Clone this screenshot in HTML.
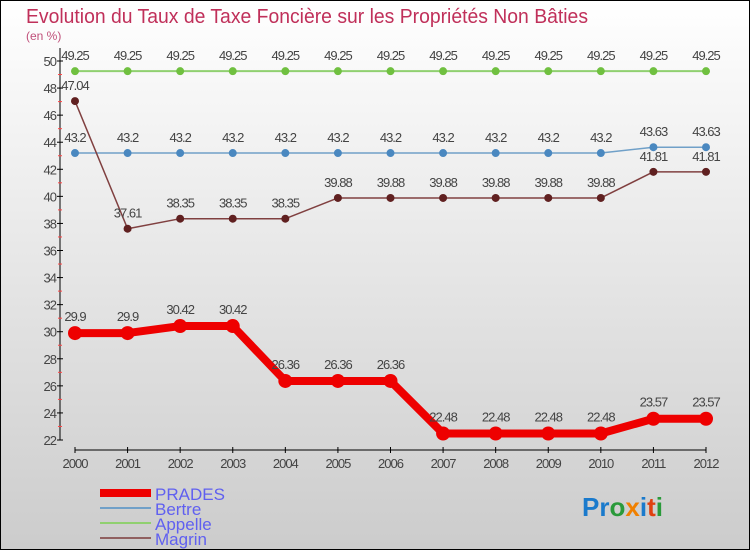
<!DOCTYPE html>
<html><head><meta charset="utf-8"><style>
body{margin:0}
svg{display:block;font-family:"Liberation Sans",sans-serif}
</style></head><body>
<svg id="c" width="750" height="550" viewBox="0 0 750 550">
<defs><linearGradient id="bg" x1="0" y1="0" x2="0" y2="1"><stop offset="0" stop-color="#ffffff"/><stop offset="1" stop-color="#cccccc"/></linearGradient></defs>
<rect x="0.5" y="0.5" width="749" height="549" fill="url(#bg)" stroke="#000"/>
<text x="26" y="23" font-size="20" fill="#c0305a" textLength="562" lengthAdjust="spacingAndGlyphs">Evolution du Taux de Taxe Foncière sur les Propriétés Non Bâties</text>
<text x="26" y="40" font-size="12" fill="#c0507a">(en %)</text>
<g id="axes"></g><g id="series"></g>
<g>
<rect x="100" y="489" width="51" height="8" fill="#e00"/>
<text x="155" y="500" font-size="17" fill="#6060f0">PRADES</text>
<rect x="100" y="507" width="51" height="2" fill="#70a0c8"/>
<text x="155" y="515" font-size="17" fill="#6060f0">Bertre</text>
<rect x="100" y="522" width="51" height="2" fill="#90d070"/>
<text x="155" y="530" font-size="17" fill="#6060f0">Appelle</text>
<rect x="100" y="537" width="51" height="2" fill="#906060"/>
<text x="155" y="545" font-size="17" fill="#6060f0">Magrin</text>
</g>
<text x="582" y="516" font-size="26" font-weight="bold"><tspan fill="#1a7acc">Pr</tspan><tspan fill="#2a9a3a">o</tspan><tspan fill="#f08000">x</tspan><tspan fill="#1a7acc">i</tspan><tspan fill="#e04010">t</tspan><tspan fill="#2a9a3a">i</tspan></text>
</svg>
<script>
const years=[2000,2001,2002,2003,2004,2005,2006,2007,2008,2009,2010,2011,2012];
const prades=[29.9,29.9,30.42,30.42,26.36,26.36,26.36,22.48,22.48,22.48,22.48,23.57,23.57];
const bertre=[43.2,43.2,43.2,43.2,43.2,43.2,43.2,43.2,43.2,43.2,43.2,43.63,43.63];
const appelle=[49.25,49.25,49.25,49.25,49.25,49.25,49.25,49.25,49.25,49.25,49.25,49.25,49.25];
const magrin=[47.04,37.61,38.35,38.35,38.35,39.88,39.88,39.88,39.88,39.88,39.88,41.81,41.81];
const yTicks=[22,24,26,28,30,32,34,36,38,40,42,44,46,48,50];
const NS="http://www.w3.org/2000/svg";
const X=i=>75+i*(706-75)/(years.length-1);
const Y=v=>440-(v-22)*(440-61)/28;
function mk(t,a,p){const e=document.createElementNS(NS,t);for(const k in a)e.setAttribute(k,a[k]);p.appendChild(e);return e;}
const ax=document.getElementById('axes');
const ya=mk('line',{x1:60,y1:48,x2:60,y2:440,stroke:'#000'},ax);


yTicks.forEach(v=>{
  mk('line',{x1:57,x2:63,y1:Y(v),y2:Y(v),stroke:'#000'},ax);
  if(v<50)mk('line',{x1:58,x2:62,y1:Y(v+1),y2:Y(v+1),stroke:'#f44'},ax);
  const t=mk('text',{x:56,y:Y(v)+5,'font-size':13,'text-anchor':'end',fill:'#444','letter-spacing':'-1'},ax);
  t.textContent=v;
  
  
});
const xa=mk('line',{x1:75,y1:450,x2:706,y2:450,stroke:'#000'},ax);


years.forEach((y,i)=>{
  mk('line',{x1:X(i),x2:X(i),y1:447,y2:453,stroke:'#000'},ax);
  const t=mk('text',{x:X(i),y:468,'font-size':13,'text-anchor':'middle',fill:'#444','letter-spacing':'-1'},ax);
  t.textContent=y;
  
  
});
const sg=document.getElementById('series');
function series(name,data,color,dot,w,r,off){
  const g=mk('g',{},sg);
  
  
  mk('polyline',{points:data.map((v,i)=>X(i)+','+Y(v)).join(' '),fill:'none',stroke:color,'stroke-width':w,'stroke-linejoin':'round'},g);
  data.forEach((v,i)=>{
    const c=mk('circle',{cx:X(i),cy:Y(v),r:r,fill:dot},g);
    
    
    const t=mk('text',{x:X(i),y:Y(v)-off,'font-size':13,'text-anchor':'middle',fill:'#444','letter-spacing':'-1'},g);
    t.textContent=v;
    
    
  });
}
series('appelle',appelle,'#90d070','#70c040',2,4,11);
series('bertre',bertre,'#70a0c8','#4a88c0',1.5,4,11);
series('magrin',magrin,'#804040','#602020',1.5,4,11);
series('prades',prades,'#e00','#e00',8,7,12);
</script>
</body></html>
